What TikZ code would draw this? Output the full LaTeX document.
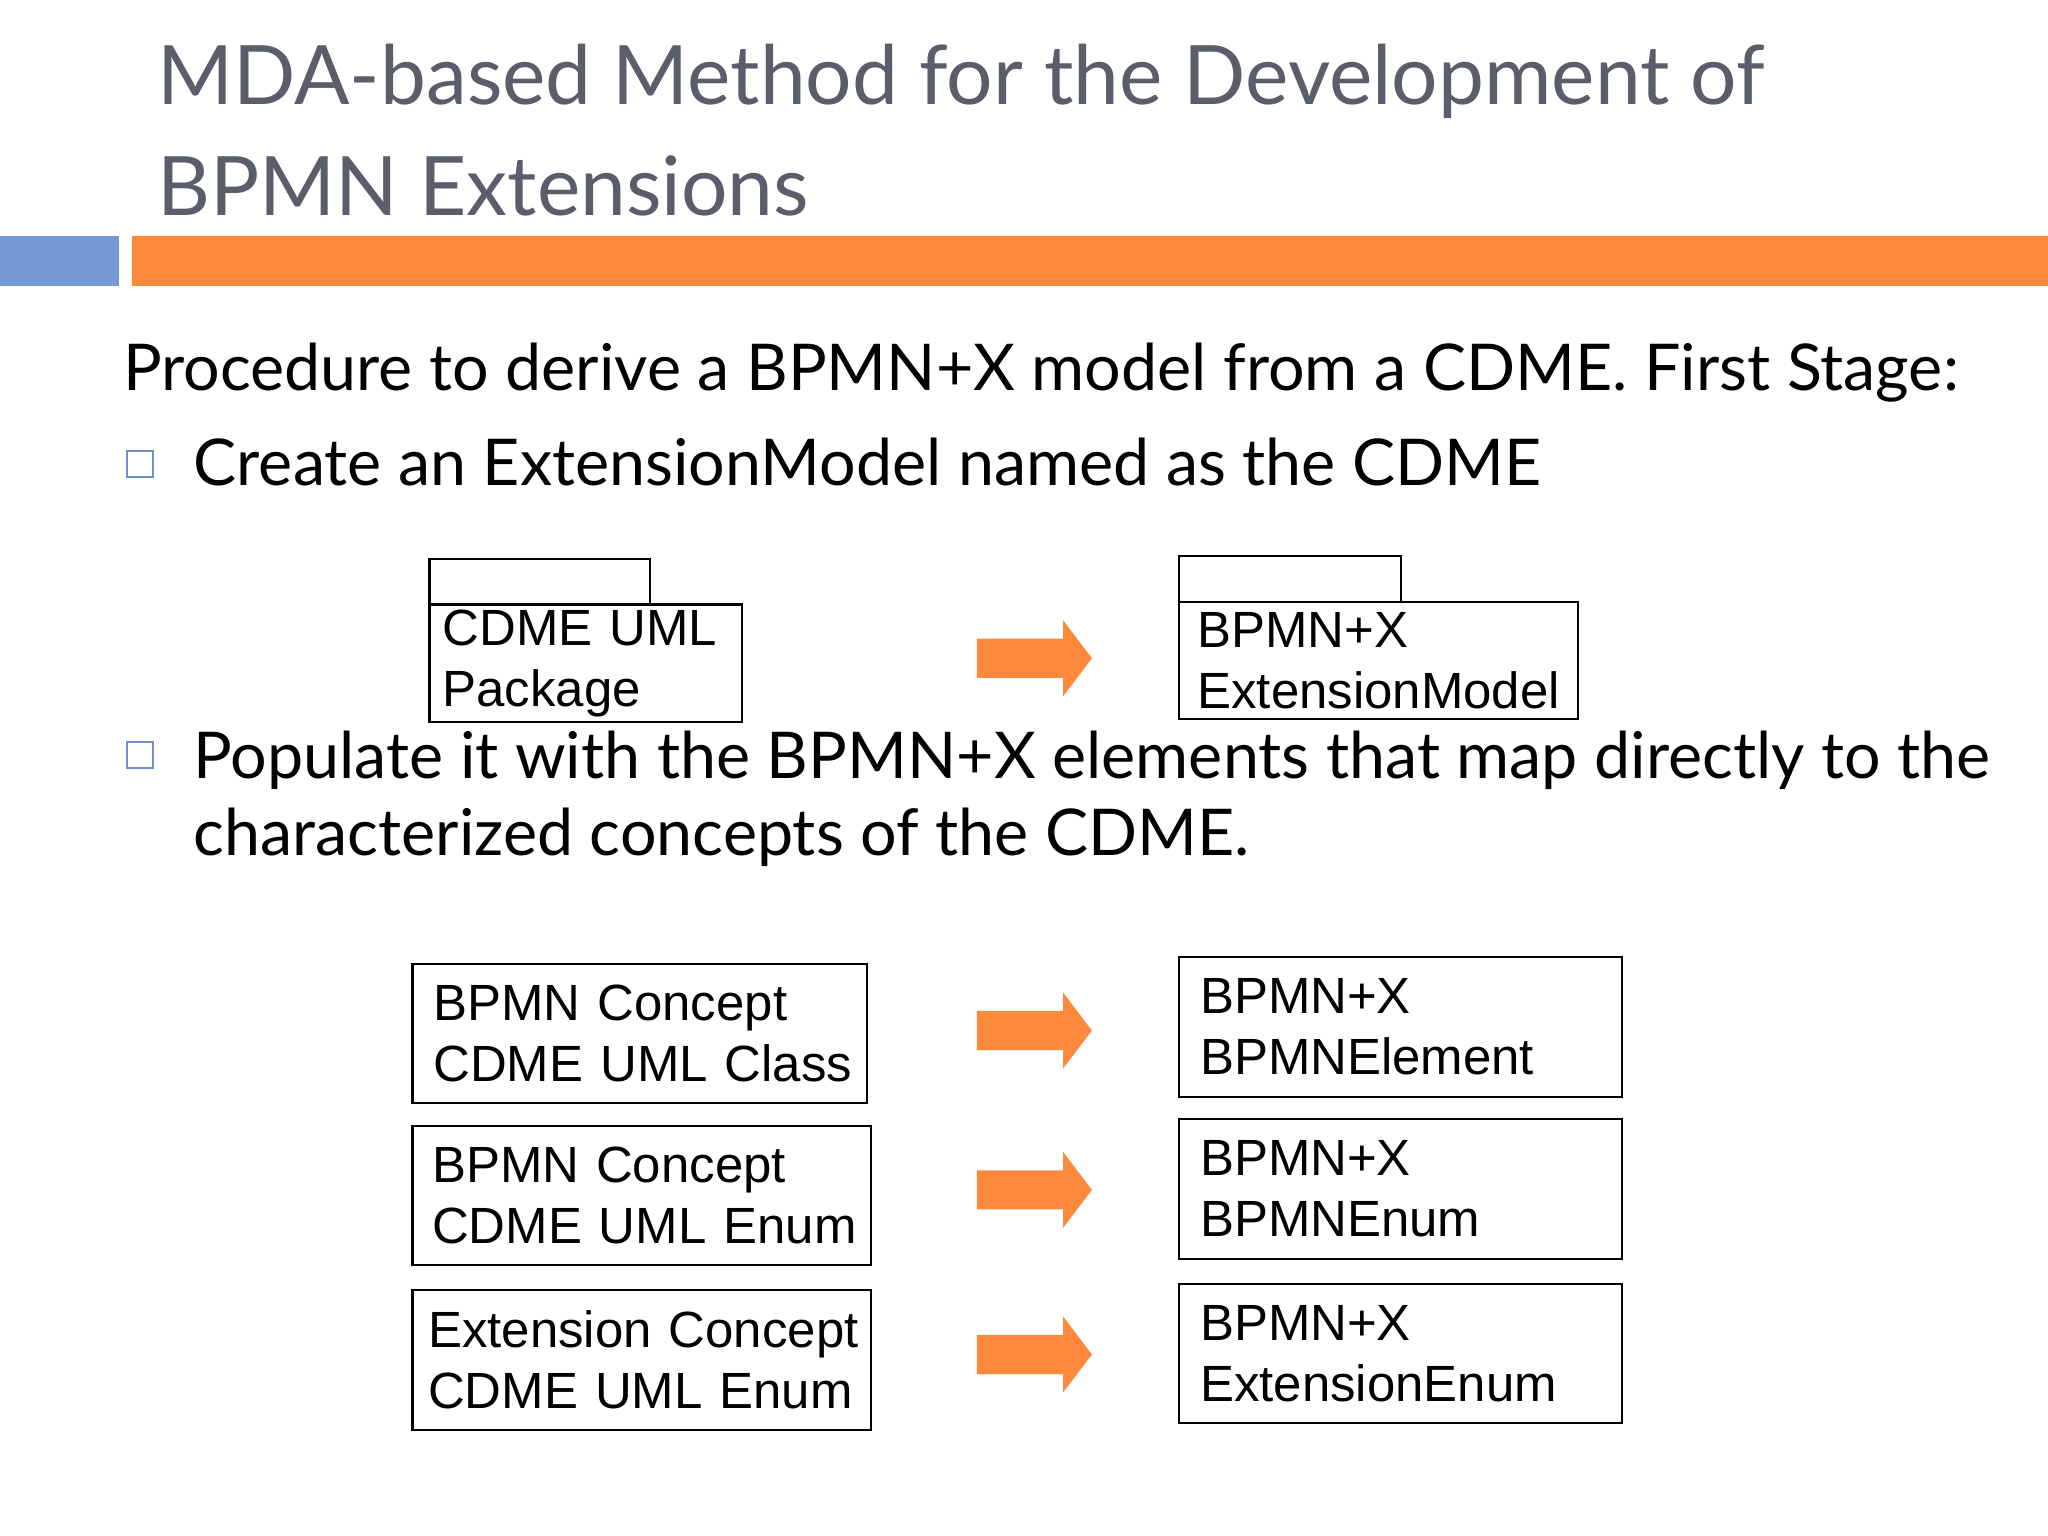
\documentclass[tikz,border=0pt]{standalone}
\usepackage{fontspec}
\setmainfont{Liberation Sans}
\newfontfamily\gillish{Lato}
\definecolor{titlegray}{HTML}{5A5E6B}
\definecolor{barblue}{HTML}{7799D6}
\definecolor{barorange}{HTML}{FD8A3C}
\definecolor{bulletblue}{HTML}{6F8FD0}
\tikzset{
  box/.style={draw=black, line width=0.8pt, rectangle, anchor=north west, align=left, inner xsep=0pt, inner ysep=0pt, font=\fontsize{19.5}{23.5}\selectfont},
  tabbox/.style={draw=black, line width=0.8pt, rectangle, anchor=north west, inner sep=0pt},
  bodytext/.style={anchor=base west, inner sep=0pt, font=\gillish\fontsize{24.7}{29}\selectfont},
  bullet/.style={draw=bulletblue, line width=0.7pt, minimum size=10pt, inner sep=0pt}
}
\newcommand{\blockarrow}[1]{\fill[barorange] ($(#1)+(-44,-15)$) -- ($(#1)+(22,-15)$) -- ($(#1)+(22,-29)$) -- ($(#1)+(44,0)$) -- ($(#1)+(22,29)$) -- ($(#1)+(22,15)$) -- ($(#1)+(-44,15)$) -- cycle;}
\usetikzlibrary{calc}
\begin{document}
\begin{tikzpicture}[x=0.5pt,y=-0.5pt]
\useasboundingbox (0,0) rectangle (1568,1176);
\fill[white] (0,0) rectangle (1568,1176);
% title
\node[anchor=base west, inner sep=0pt, text=titlegray, font=\gillish\fontsize{31.4}{40}\selectfont] (t1) at (120,80) {MDA-based Method for the Development of};
\node[anchor=base west, inner sep=0pt, text=titlegray, font=\gillish\fontsize{31.4}{40}\selectfont] (t2) at (120,165) {BPMN Extensions};
\fill[barblue] (0,181) rectangle (91,219);
\fill[barorange] (101,181) rectangle (1568,219);
% text
\node[bodytext] (p) at (94,299) {Procedure to derive a BPMN+X model from a CDME. First Stage:};
\node[bullet] (b1) at (107,355) {};
\node[bodytext] (l1) at (148,372) {Create an ExtensionModel named as the CDME};
\node[bullet] (b2) at (107,578) {};
\node[bodytext] (l2) at (148,596) {Populate it with the BPMN+X elements that map directly to the};
\node[bodytext] (l3) at (148,655) {characterized concepts of the CDME.};
% packages
\node[tabbox, minimum width=84.5pt, minimum height=17.5pt] (tab1) at (328,427) {};
\node[box, minimum width=119.5pt, minimum height=45pt, text width=119.5pt] (pk1) at (328,462) {\hspace*{5pt}CDME UML\\\hspace*{5pt}Package};
\node[tabbox, minimum width=85pt, minimum height=17.5pt] (tab2) at (902,425) {};
\node[box, minimum width=152.5pt, minimum height=45pt, text width=152.5pt] (pk2) at (902,460) {\hspace*{7pt}BPMN+X\\\hspace*{7pt}ExtensionModel};
\coordinate (a0) at (792,504);
\blockarrow{a0}
% boxes
\node[box, minimum width=174pt, minimum height=53.5pt, text width=174pt] (c1) at (315,737) {\hspace*{8pt}BPMN Concept\\\hspace*{8pt}CDME UML Class};
\node[box, minimum width=175.5pt, minimum height=53.5pt, text width=175.5pt] (c2) at (315,861) {\hspace*{7.5pt}BPMN Concept\\\hspace*{7.5pt}CDME UML Enum};
\node[box, minimum width=175.5pt, minimum height=53.5pt, text width=175.5pt] (c3) at (315,987) {\hspace*{6pt}Extension Concept\\\hspace*{6pt}CDME UML Enum};
\node[box, minimum width=169.5pt, minimum height=53.5pt, text width=169.5pt] (r1) at (902,732) {\hspace*{8pt}BPMN+X\\\hspace*{8pt}BPMNElement};
\node[box, minimum width=169.5pt, minimum height=53.5pt, text width=169.5pt] (r2) at (902,856) {\hspace*{8pt}BPMN+X\\\hspace*{8pt}BPMNEnum};
\node[box, minimum width=169.5pt, minimum height=53.5pt, text width=169.5pt] (r3) at (902,982) {\hspace*{8pt}BPMN+X\\\hspace*{8pt}ExtensionEnum};
\coordinate (a1) at (792,789);
\coordinate (a2) at (792,911);
\coordinate (a3) at (792,1037);
\blockarrow{a1}
\blockarrow{a2}
\blockarrow{a3}
\end{tikzpicture}
\end{document}
